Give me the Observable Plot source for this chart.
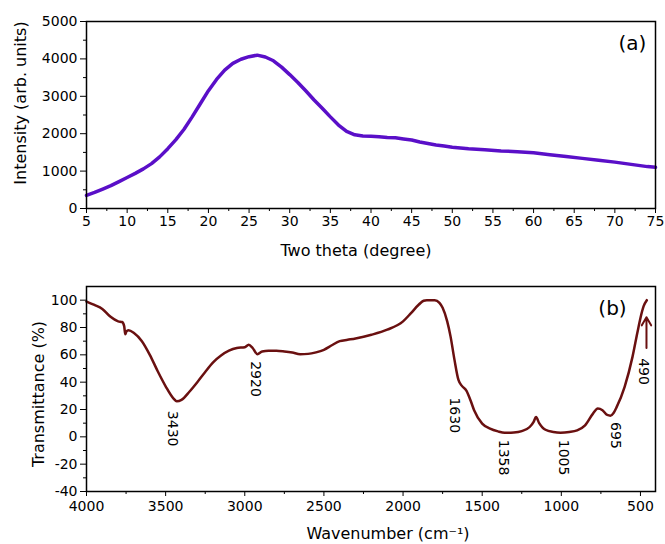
<!DOCTYPE html>
<html>
<head>
<meta charset="utf-8">
<script src="https://cdn.jsdelivr.net/npm/d3@7"></script>
<script src="https://cdn.jsdelivr.net/npm/@observablehq/plot@0.6"></script>
<style>
  html, body { margin: 0; padding: 0; background: #fff; }
  #chart svg { display: block; }
</style>
</head>
<body>
<div id="chart"></div>
<script>
// ---- Panel (a): XRD pattern ----
const xrdTheta = [5,6,7,8,9,10,11,12,13,14,15,16,17,18,19,20,21,22,23,24,25,26,27,28,29,30,31,32,33,34,35,36,37,38,39,40,41,42,43,44,45,46,47,48,49,50,52,54,56,58,60,62,64,66,68,70,72,74,75];
const xrdIntensity = [350,430,520,610,720,830,940,1060,1200,1380,1600,1840,2120,2450,2800,3150,3450,3700,3880,3990,4060,4100,4050,3950,3780,3580,3370,3140,2900,2680,2450,2230,2060,1970,1940,1930,1920,1900,1890,1860,1830,1780,1740,1700,1670,1640,1600,1570,1540,1520,1490,1440,1390,1340,1290,1240,1180,1120,1100];
const xrdXTicks = [5,10,15,20,25,30,35,40,45,50,55,60,65,70,75];
const xrdXMinor = [7.5,12.5,17.5,22.5,27.5,32.5,37.5,42.5,47.5,52.5,57.5,62.5,67.5,72.5];
const xrdYTicks = [0,1000,2000,3000,4000,5000];
const xrdYMinor = [500,1500,2500,3500,4500];

// ---- Panel (b): FTIR spectrum ----
const irWavenumber = [4000,3950,3900,3850,3800,3775,3762,3755,3748,3735,3700,3650,3600,3550,3500,3450,3430,3400,3350,3300,3250,3200,3150,3100,3050,3000,2975,2950,2920,2890,2850,2800,2750,2700,2650,2600,2550,2500,2450,2400,2350,2300,2200,2100,2000,1950,1900,1870,1850,1800,1770,1750,1721,1700,1675,1650,1627,1599,1574,1551,1500,1450,1400,1358,1300,1250,1200,1175,1160,1140,1120,1100,1050,1005,950,900,850,800,770,740,710,690,670,650,600,550,520,500,480,460];
const irTransmittance = [99,96.5,93.6,88,84.5,84,81,75,77,78,76,70,60,48,37,28,26,27,33,40,47.5,54.5,59.5,63,65,65.6,67.4,65,60.5,62.5,63,63,62.5,61.7,60.5,60.7,61.8,63.7,67,70,71,72,74.7,78.4,84.5,90.5,96.8,99.6,100,100,98,94.4,84.5,73.5,56.3,41.6,37.1,33.7,26.8,19.5,9.7,6,4,3,3.2,4.2,7.2,11,14.5,10,7,5.2,3.5,3,3.5,4.7,8.4,17,20.7,19.5,16,15.5,17.5,21.9,36.6,58.7,76,87,95.6,100];
const irXTicks = [4000,3500,3000,2500,2000,1500,1000,500];
const irXMinor = [3750,3250,2750,2250,1750,1250,750];
const irYTicks = [-40,-20,0,20,40,60,80,100];
const irYMinor = [-30,-10,10,30,50,70,90];

// peak annotations (rotated labels)
const peakLabels = ["3430","2920","1630","1358","1005","695","490"];
const peakLabelX = [3459,2932,1675,1364,985,658,479];
const peakLabelY = [6,42.3,15.8,-15.2,-15.2,1,47.8];
// arrow at 490
const arrowX = [462];
const arrowFrom = [65];
const arrowTo = [87.5];

const FONT = "'DejaVu Sans', sans-serif";
const fmt = d => String(d);

const xrd = xrdTheta.map((t, i) => ({t, v: xrdIntensity[i]}));
const ir = irWavenumber.map((w, i) => ({w, v: irTransmittance[i]}));
const peaks = peakLabels.map((s, i) => ({s, x: peakLabelX[i], y: peakLabelY[i]}));
const arrows = arrowX.map((x, i) => ({x, y1: arrowFrom[i], y2: arrowTo[i]}));

const panelA = Plot.plot({
  width: 665, height: 265,
  marginLeft: 86, marginRight: 10, marginTop: 21, marginBottom: 57,
  style: {fontFamily: FONT, fontSize: "14px", color: "#000", background: "#fff"},
  x: {domain: [5, 75]},
  y: {domain: [0, 5000]},
  marks: [
    Plot.axisY({ticks: xrdYTicks, tickSize: 6, tickPadding: 3, tickFormat: fmt, label: null}),
    Plot.axisY({ticks: xrdYMinor, tickSize: 3, tickFormat: () => "", label: null}),
    Plot.axisX({ticks: xrdXTicks, tickSize: 5, tickPadding: 3, tickFormat: fmt, label: null}),
    Plot.axisX({ticks: xrdXMinor, tickSize: 3, tickFormat: () => "", label: null}),
    Plot.line(xrd, {x: "t", y: "v", stroke: "#5a0fc8", strokeWidth: 3.5}),
    Plot.frame({stroke: "#000", strokeWidth: 1.5}),
    Plot.text(["(a)"], {text: d => d, frameAnchor: "top-right", textAnchor: "middle", lineAnchor: "middle", dx: -23, dy: 22, fontSize: 20}),
    Plot.text(["Intensity (arb. units)"], {text: d => d, frameAnchor: "left", textAnchor: "middle", lineAnchor: "middle", dx: -66, dy: -12, rotate: -90, fontSize: 16}),
    Plot.text(["Two theta (degree)"], {text: d => d, frameAnchor: "bottom", textAnchor: "middle", lineAnchor: "middle", dx: -15, dy: 42, fontSize: 16})
  ]
});

const panelB = Plot.plot({
  width: 665, height: 279,
  marginLeft: 86, marginRight: 10, marginTop: 21, marginBottom: 53,
  style: {fontFamily: FONT, fontSize: "14px", color: "#000", background: "#fff"},
  x: {domain: [4000, 405]},
  y: {domain: [-40, 110]},
  marks: [
    Plot.axisY({ticks: irYTicks, tickSize: 6, tickPadding: 3, tickFormat: fmt, label: null}),
    Plot.axisY({ticks: irYMinor, tickSize: 3, tickFormat: () => "", label: null}),
    Plot.axisX({ticks: irXTicks, tickSize: 5, tickPadding: 5, tickFormat: fmt, label: null}),
    Plot.axisX({ticks: irXMinor, tickSize: 3, tickFormat: () => "", label: null}),
    Plot.line(ir, {x: "w", y: "v", stroke: "#6a1010", strokeWidth: 2.5, curve: "monotone-x"}),
    Plot.arrow(arrows, {x1: "x", x2: "x", y1: "y1", y2: "y2", stroke: "#6a1010", strokeWidth: 2, headLength: 7}),
    Plot.text(peaks, {x: "x", y: "y", text: "s", rotate: 90, textAnchor: "middle", lineAnchor: "middle", fontSize: 14}),
    Plot.frame({stroke: "#000", strokeWidth: 1.5}),
    Plot.text(["(b)"], {text: d => d, frameAnchor: "top-right", textAnchor: "middle", lineAnchor: "middle", dx: -43, dy: 22, fontSize: 20}),
    Plot.text(["Transmittance (%)"], {text: d => d, frameAnchor: "left", textAnchor: "middle", lineAnchor: "middle", dx: -48, dy: 5, rotate: -90, fontSize: 16}),
    Plot.text(["Wavenumber (cm⁻¹)"], {text: d => d, frameAnchor: "bottom", textAnchor: "middle", lineAnchor: "middle", dx: 17, dy: 42, fontSize: 16})
  ]
});

const root = document.getElementById("chart");
root.appendChild(panelA);
root.appendChild(panelB);
</script>
</body>
</html>
